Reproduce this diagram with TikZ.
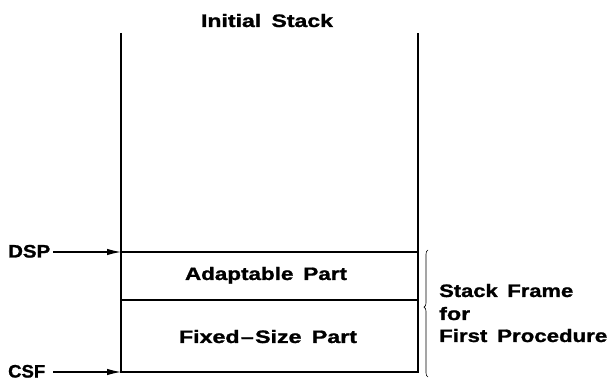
\documentclass[tikz,border=0pt]{standalone}
\usepackage{fontspec}
\usepackage{graphicx}
\setmainfont{Liberation Sans}[BoldFeatures={FakeBold=1.2}]
\usetikzlibrary{arrows.meta,decorations.pathreplacing}
\newcommand\wtxt[2]{\resizebox{#1}{\height}{#2}}
\begin{document}
\begin{tikzpicture}[x=1pt,y=-1pt,
  lbl/.style={font=\fontsize{18}{20}\selectfont\bfseries, inner sep=0pt, anchor=base},
  lblw/.style={lbl, anchor=base west},
  wall/.style={line width=1.8pt},
  ptr/.style={line width=1.1pt,-{Latex[length=14pt,width=6.5pt]}}]
\useasboundingbox (0,0) rectangle (608,379);
\node[lbl] (title) at (267,27) {\wtxt{132pt}{Initial\hspace{3pt} Stack}};
\coordinate (tl) at (121,33);
\coordinate (tr) at (418,33);
\coordinate (dl) at (121,252);
\coordinate (dr) at (418,252);
\coordinate (ml) at (121,300);
\coordinate (mr) at (418,300);
\coordinate (bl) at (121,372);
\coordinate (br) at (418,372);
\draw[wall] (tl) -- (bl) -- (br) -- (tr);
\draw[wall] (dl) -- (dr);
\draw[wall] (ml) -- (mr);
\node[lbl] (adapt) at (266,280) {\wtxt{162pt}{Adaptable\hspace{3pt} Part}};
\node[lbl] (fixed) at (268,343) {\wtxt{178pt}{Fixed\kern1pt\textendash\kern1pt Size\hspace{3pt} Part}};
\node[lblw] (dsp) at (8,257.5) {\wtxt{42pt}{DSP}};
\node[lblw] (csf) at (8,377.5) {\wtxt{37pt}{CSF}};
\coordinate (ds) at (53,252);
\coordinate (cs) at (53,372);
\draw[ptr] (ds) -- (dl);
\draw[ptr] (cs) -- (bl);
\coordinate (b1) at (428,250);
\coordinate (b2) at (428,377);
\draw[line width=0.6pt,decorate,decoration={brace,amplitude=4pt,mirror,aspect=0.45}] (b1) -- (b2);
\node[lblw] (sf) at (439,297) {\wtxt{134pt}{Stack\hspace{3pt} Frame}};
\node[lblw] (for) at (439,320) {\wtxt{31pt}{for}};
\node[lblw] (fp) at (439,342) {\wtxt{168pt}{First\hspace{3pt} Procedure}};
\end{tikzpicture}
\end{document}
